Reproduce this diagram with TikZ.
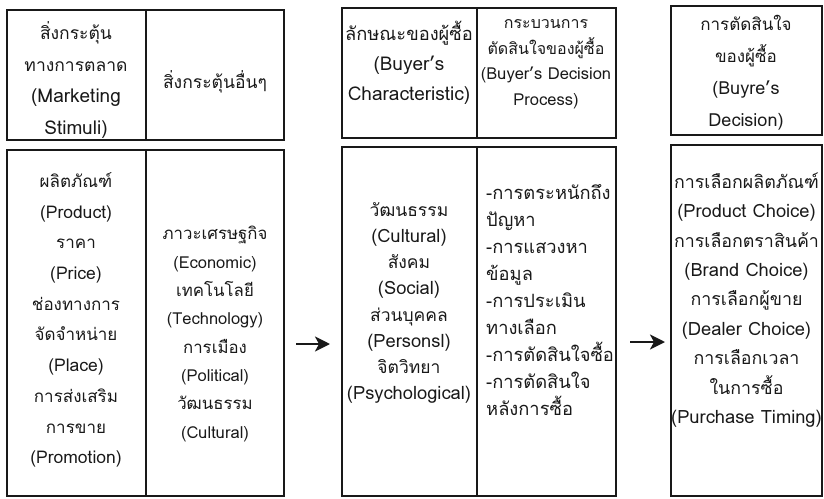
\documentclass[tikz,border=0pt]{standalone}
\usepackage{fontspec}
\setmainfont[Script=Thai]{Loma}
\usetikzlibrary{arrows.meta}
\tikzset{
  box/.style={draw=black!90, line width=1.2pt, inner sep=0pt, outer sep=0pt},
  divider/.style={draw=black!90, line width=1.2pt},
  cell/.style={align=center, inner sep=0pt, text=black!90},
  lcell/.style={align=left, inner sep=0pt, text=black!90, anchor=west},
  arr/.style={line width=2.6pt, draw=black!90, -{Stealth[length=15pt,width=15pt,inset=4pt]}}
}
\newcommand{\fs}[2]{\fontsize{#1}{#2}\selectfont}
\newcommand{\ls}{18}
\newcommand{\E}[1]{{\fontsize{\ls}{\ls}\selectfont #1}}
\begin{document}
\begin{tikzpicture}[x=1pt,y=-1pt]
\useasboundingbox (0,0) rectangle (824,498);
% boxes
\node[box, minimum width=277pt, minimum height=130pt] (lt) at (145.5,75) {};
\node[box, minimum width=277pt, minimum height=346pt] (lb) at (145.5,323) {};
\node[box, minimum width=274pt, minimum height=130pt] (mt) at (479,73) {};
\node[box, minimum width=274pt, minimum height=349pt] (mb) at (479,321.5) {};
\node[box, minimum width=151pt, minimum height=129pt] (rt) at (746.5,70.5) {};
\node[box, minimum width=151pt, minimum height=351pt] (rb) at (746.5,320.5) {};
% dividers
\draw[divider] (146,10) -- (146,140);
\draw[divider] (146,150) -- (146,496);
\draw[divider] (477,8) -- (477,138);
\draw[divider] (477,147) -- (477,496);
% top texts
\node[cell, font=\fs{17.5}{31.5}\renewcommand{\ls}{19}] (t1) at (76,80) {สิ่งกระตุ้น\\ทางการตลาด\\\E{(Marketing}\\\E{Stimuli)}};
\node[cell, font=\fs{17.5}{30}] (t2) at (215,82) {สิ่งกระตุ้นอื่นๆ};
\node[cell, font=\fs{18.3}{30}\renewcommand{\ls}{19}] (t3) at (409,63) {ลักษณะของผู้ซื้อ\\\E{(Buyer’s}\\\E{Characteristic)}};
\node[cell, font=\fs{16}{25.5}\renewcommand{\ls}{16.5}] (t4) at (546,64) {กระบวนการ\\ตัดสินใจของผู้ซื้อ\\\E{(Buyer’s Decision}\\\E{Process)}};
\node[cell, font=\fs{17}{32}\renewcommand{\ls}{18}] (t5) at (746,73) {การตัดสินใจ\\ของผู้ซื้อ\\\E{(Buyre’s}\\\E{Decision)}};
% bottom texts
\node[cell, font=\fs{17}{30.7}\renewcommand{\ls}{17.5}] (b1) at (76,320) {ผลิตภัณฑ์\\\E{(Product)}\\ราคา\\\E{(Price)}\\ช่องทางการ\\จัดจำหน่าย\\\E{(Place)}\\การส่งเสริม\\การขาย\\\E{(Promotion)}};
\node[cell, font=\fs{16.8}{28.3}\renewcommand{\ls}{16.5}] (b2) at (215,334) {ภาวะเศรษฐกิจ\\\E{(Economic)}\\เทคโนโลยี\\\E{(Technology)}\\การเมือง\\\E{(Political)}\\วัฒนธรรม\\\E{(Cultural)}};
\node[cell, font=\fs{17.5}{26.2}\renewcommand{\ls}{18.3}] (b3) at (409,303) {วัฒนธรรม\\\E{(Cultural)}\\สังคม\\\E{(Social)}\\ส่วนบุคคล\\\E{(Personsl)}\\จิตวิทยา\\\E{(Psychological)}};
\node[lcell, font=\fs{18.3}{26.9}] (b4) at (486,300) {-การตระหนักถึง\\ปัญหา\\-การแสวงหา\\ข้อมูล\\-การประเมิน\\ทางเลือก\\-การตัดสินใจซื้อ\\-การตัดสินใจ\\หลังการซื้อ};
\node[cell, font=\fs{17.8}{29.4}\renewcommand{\ls}{18.3}] (b5) at (746.5,300) {การเลือกผลิตภัณฑ์\\\E{(Product Choice)}\\การเลือกตราสินค้า\\\E{(Brand Choice)}\\การเลือกผู้ขาย\\\E{(Dealer Choice)}\\การเลือกเวลา\\ในการซื้อ\\\E{(Purchase Timing)}};
% arrows
\draw[arr, shorten <=12pt, shorten >=12pt] ([yshift=-21pt]lb.east) -- ([yshift=-21pt]lb.east -| mb.west);
\draw[arr, shorten <=14pt, shorten >=6pt] ([yshift=-20.5pt]mb.east) -- ([yshift=-20.5pt]mb.east -| rb.west);
\end{tikzpicture}
\end{document}
